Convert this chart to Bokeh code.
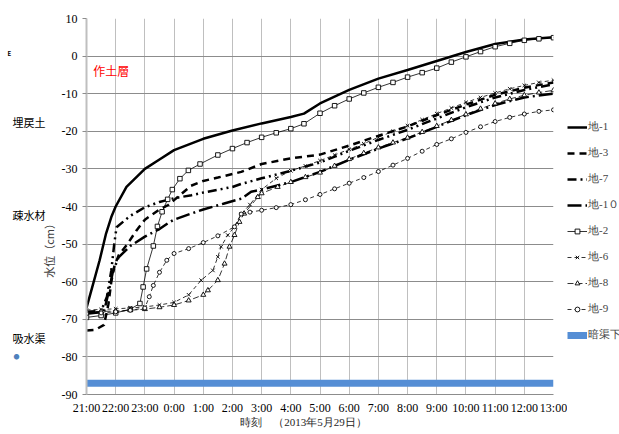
from math import pi
from bokeh.plotting import figure
from bokeh.layouts import row
from bokeh.models import Range1d, FixedTicker, Label, Legend, LegendItem
from bokeh.embed import file_html
from bokeh.resources import INLINE

# ---------------- data (x = hours after 21:00 on 2013-05-28) ----------------
hour_ticks = list(range(17))
hour_labels = ["21:00", "22:00", "23:00", "0:00", "1:00", "2:00", "3:00", "4:00",
               "5:00", "6:00", "7:00", "8:00", "9:00", "10:00", "11:00", "12:00", "13:00"]
y_ticks = list(range(-90, 11, 10))
y_labels = [str(v) for v in y_ticks]

t1 = [0, 0.23, 0.45, 0.67, 0.85, 1.0, 1.37, 2.0, 2.5, 3.0, 4.0, 5.0, 6.0, 7.0, 7.45,
      8.0, 9.0, 10.0, 11.0, 12.0, 13.0, 14.0, 15.0, 16.0]
v1 = [-67, -60.5, -54.3, -47.2, -42.8, -40, -34.8, -30, -27.5, -25, -22, -19.8, -17.9,
      -16.2, -15.3, -12.6, -9, -6, -3.7, -1.3, 1.1, 3.2, 4.4, 5.0]

t3 = [0, 0.3, 0.6, 0.75, 0.85, 0.95, 1.1, 1.4, 1.7, 2.0, 2.5, 2.8, 3.0, 3.58, 4.0, 4.5,
      5.3, 6.0, 7.0, 8.0, 9.0, 10.0, 11.0, 12.0, 13.0, 14.0, 15.0, 16.0]
v3 = [-73, -72.8, -71.5, -66, -60, -56, -53, -50, -46.5, -43.5, -40.8, -39.6, -38.3,
      -34.5, -33.2, -32.3, -30.8, -28.7, -27.2, -26.2, -23.8, -21.2, -18.7, -15.7,
      -12.9, -10.3, -8.4, -7.0]

t7 = [0, 0.5, 0.7, 0.85, 0.95, 1.03, 1.5, 2.0, 2.5, 3.0, 3.6, 4.0, 5.0, 5.3, 6.0, 7.0,
      8.0, 9.0, 10.0, 11.0, 12.0, 13.0, 14.0, 15.0, 16.0]
v7 = [-68, -67.8, -64, -57, -50, -45.5, -42.5, -40.2, -38.8, -37.8, -37, -36.3, -34.8,
      -34, -32.5, -30.5, -28.3, -25.2, -22.3, -19.6, -16.6, -13.6, -11, -9, -7.5]

t10 = [0, 0.6, 0.75, 0.9, 1.1, 1.5, 2.0, 2.5, 2.8, 3.0, 3.58, 4.0, 4.72, 5.31, 5.64, 6.0,
       7.0, 8.0, 9.0, 10.0, 11.0, 12.0, 13.0, 14.0, 15.0, 16.0]
v10 = [-68.5, -68, -63, -57.5, -53.5, -50.5, -48, -46, -44.4, -43.5, -41.9, -40.8, -39.2,
       -37.9, -36.1, -35.5, -33.5, -30.8, -27.6, -24.6, -21.9, -18.8, -15.7, -13.0,
       -11.0, -10.0]

t2 = [0, 0.5, 1.0, 1.5, 1.83, 1.94, 2.06, 2.29, 2.43, 2.59, 2.78, 2.94, 3.2, 3.49, 3.89,
      4.5, 5.0, 5.5, 6.0, 6.5, 7.0, 7.45, 8.0, 8.5, 9.0, 9.5, 10.0, 10.5, 11.0, 11.5,
      12.0, 12.5, 13.0, 13.5, 14.0, 14.5, 15.0, 15.5, 16.0]
v2 = [-69.5, -69, -68.3, -67.3, -65.8, -61.4, -56.6, -50.5, -45.3, -41.4, -38.1, -35.5,
      -32.6, -30.4, -28.7, -26.3, -24.6, -23, -21.6, -20.4, -19.3, -18, -15.2, -13.2,
      -11.4, -9.8, -8.3, -7, -5.6, -4.4, -3.2, -1.6, -0.2, 1.2, 2.5, 3.4, 4.2, 4.6, 4.9]

t6 = [0, 0.5, 1.0, 1.5, 2.0, 2.5, 3.0, 3.5, 3.93, 4.33, 4.5, 4.61, 4.84, 5.07, 5.3, 5.6,
      6.0, 6.5, 7.0, 7.5, 8.0, 8.5, 9.0, 9.5, 10.0, 10.5, 11.0, 11.5, 12.0, 12.5, 13.0,
      13.5, 14.0, 14.5, 15.0, 15.5, 16.0]
v6 = [-67.5, -67.4, -67.2, -67, -66.7, -66.2, -65.5, -63.5, -59.6, -57, -53.4, -50.7,
      -47.6, -45.4, -42, -39.5, -35.5, -32.5, -30.5, -29.2, -27.8, -26.3, -24.8, -23.3,
      -21.6, -20, -18.5, -16.9, -15.3, -13.8, -12.3, -11, -9.8, -8.7, -7.8, -7, -6.4]

t8 = [0, 0.5, 1.0, 1.5, 2.0, 2.5, 3.0, 3.5, 4.0, 4.16, 4.5, 4.73, 4.9, 5.07, 5.24, 5.4,
      5.87, 6.0, 6.55, 7.0, 7.5, 8.0, 8.5, 9.0, 9.5, 10.0, 10.5, 11.0, 11.5, 12.0, 12.5,
      13.0, 13.5, 14.0, 14.5, 15.0, 15.5, 16.0]
v8 = [-68, -67.9, -67.8, -67.6, -67.3, -66.8, -66.2, -65, -63.5, -62.3, -59.6, -55.2,
      -50.7, -47.6, -44.1, -41.9, -37.5, -36.5, -34.8, -33.5, -32.2, -31, -29.2, -27.4,
      -25.8, -24.3, -23, -21.7, -20.2, -18.6, -17, -15.5, -14, -12.6, -11.4, -10.4,
      -9.7, -9.1]

t9 = [0, 0.5, 1.0, 1.5, 2.0, 2.15, 2.29, 2.5, 2.75, 3.0, 3.5, 4.0, 4.5, 5.07, 5.3, 5.6,
      6.0, 6.5, 7.0, 7.5, 8.0, 8.5, 9.0, 9.5, 10.0, 10.5, 11.0, 11.5, 12.0, 12.5, 13.0,
      13.5, 14.0, 14.5, 15.0, 15.5, 16.0]
v9 = [-68.5, -68.3, -68, -67.6, -67, -64, -61, -57.5, -54.3, -52.5, -51.2, -49.6, -47.8,
      -45.4, -42, -41.5, -41, -40.3, -39.5, -38.2, -36.8, -35.3, -33.8, -32.3, -30.7,
      -29, -27.2, -25.3, -23.5, -22, -20.3, -18.8, -17.4, -16.3, -15.4, -14.7, -14.3]

drain_x = [0, 16]
drain_y = [-87, -87]

series_names = ["地-1", "地-3", "地-7", "地-1０", "地-2", "地-6", "地-8", "地-9", "暗渠下端"]
all_x = [t1, t3, t7, t10, t2, t6, t8, t9, drain_x]
all_y = [v1, v3, v7, v10, v2, v6, v8, v9, drain_y]

# ---------------- styles ----------------
styles = [
    dict(kind="line", line_color="black", line_width=2.5),
    dict(kind="line", line_color="black", line_width=2.5, line_dash="7 5"),
    dict(kind="line", line_color="black", line_width=2.5, line_dash="9 4 2 4 2 4"),
    dict(kind="line", line_color="black", line_width=2.5, line_dash="14 4 2 4"),
    dict(kind="mark", dash="solid", marker="square", size=4.5),
    dict(kind="mark", dash="4 3", marker="x", size=5),
    dict(kind="mark", dash="6 3", marker="triangle", size=5),
    dict(kind="mark", dash="4 3", marker="circle", size=4),
    dict(kind="line", line_color="#558ed5", line_width=7),
]


def draw(fig, xs, ys, st):
    if st["kind"] == "line":
        kw = {k: v for k, v in st.items() if k != "kind"}
        return [fig.line(xs, ys, **kw)]
    rl = fig.line(xs, ys, line_color="black", line_width=0.8, line_dash=st["dash"])
    rm = fig.scatter(xs, ys, marker=st["marker"], size=st["size"], fill_color="white",
                     line_color="black", line_width=0.9)
    return [rl, rm]


# ---------------- main figure ----------------
p = figure(width=509, height=434, output_backend="svg", toolbar_location=None,
           x_range=Range1d(0, 16), y_range=Range1d(-90, 10),
           min_border_left=27, min_border_right=14, min_border_top=18, min_border_bottom=40)
p.outline_line_color = None

p.xaxis.ticker = FixedTicker(ticks=hour_ticks)
p.xaxis.major_label_overrides = {t: lab for t, lab in zip(hour_ticks, hour_labels)}
p.yaxis.ticker = FixedTicker(ticks=y_ticks)
p.yaxis.major_label_overrides = {t: lab for t, lab in zip(y_ticks, y_labels)}
for ax in (p.xaxis, p.yaxis):
    ax.major_label_text_font = "Liberation Serif"
    ax.major_label_text_font_size = "12px"
    ax.major_label_text_color = "black"
    ax.minor_tick_line_color = None
p.xaxis.axis_line_color = "#8c8c8c"
p.xaxis.major_tick_line_color = None
p.xaxis.major_tick_out = 0
p.xaxis.major_label_standoff = 6
p.xaxis.axis_label = "時刻　（2013年5月29日）　　　"
p.xaxis.axis_label_text_font = "Liberation Serif"
p.xaxis.axis_label_text_font_size = "11px"
p.xaxis.axis_label_text_font_style = "normal"
p.xaxis.axis_label_text_color = "#262626"
p.xaxis.axis_label_standoff = -2
p.yaxis.axis_line_color = "#bfbfbf"
p.yaxis.axis_line_width = 2
p.yaxis.major_tick_line_color = "#8c8c8c"
p.yaxis.major_tick_out = 4
p.yaxis.major_tick_in = 0
p.yaxis.major_label_standoff = 5
p.xgrid.grid_line_color = "#bfbfbf"
p.ygrid.grid_line_color = "#8c8c8c"

for i in [8, 0, 1, 2, 3, 4, 5, 6, 7]:
    draw(p, all_x[i], all_y[i], styles[i])

p.add_layout(Label(x=0.85, y=-3.8, text="作土層", text_font="Noto Sans CJK JP",
                   text_font_size="12px", text_color="red",
                   text_align="center", text_baseline="middle"))

# ---------------- left strip: layer names and y title (frame aligned with main) ----------------
left = figure(width=58, height=434, output_backend="svg", toolbar_location=None,
              x_range=Range1d(0, 58), y_range=Range1d(-90, 10),
              min_border=0, x_axis_type=None, y_axis_type=None)
left.outline_line_color = None
left.xgrid.visible = False
left.ygrid.visible = False


def llab(x, y, text, size="11px", color="black", **kw):
    left.add_layout(Label(x=x, y=y, text=text, text_font="Noto Sans CJK JP",
                          text_font_size=size, text_color=color, **kw))


llab(12, -17.6, "埋戻土", text_baseline="middle")
llab(12, -42.3, "疎水材", text_baseline="middle")
llab(12, -75.0, "吸水渠", text_baseline="middle")
llab(7, 0.6, "E", size="6px", text_baseline="middle", text_font_style="bold")
llab(13, -79.8, "●", size="6px", color="#4f81bd", text_baseline="middle")
llab(48, -51.0, "水位（cm）", size="11px", color="#404040", angle=pi / 2,
     text_align="center", text_baseline="middle")

# ---------------- right strip: legend (series drawn off-view as legend sources) ----------------
leg = figure(width=52, height=434, output_backend="svg", toolbar_location=None,
             x_range=Range1d(100, 101), y_range=Range1d(100, 101),
             min_border=0, x_axis_type=None, y_axis_type=None)
leg.outline_line_color = None
leg.xgrid.visible = False
leg.ygrid.visible = False
items = []
for name, xs, ys, st in zip(series_names, all_x, all_y, styles):
    rs = draw(leg, xs, ys, st)
    items.append(LegendItem(label=name, renderers=rs))
legend = Legend(items=items, location=(0, 52), orientation="vertical",
                glyph_width=20, glyph_height=12, label_height=12, spacing=11,
                label_standoff=1, padding=0, margin=0,
                label_text_font="Liberation Serif", label_text_font_size="11px",
                border_line_color=None, background_fill_alpha=0)
leg.add_layout(legend, "center")

layout = row(left, p, leg)
open("out.html", "w").write(file_html(layout, INLINE))
